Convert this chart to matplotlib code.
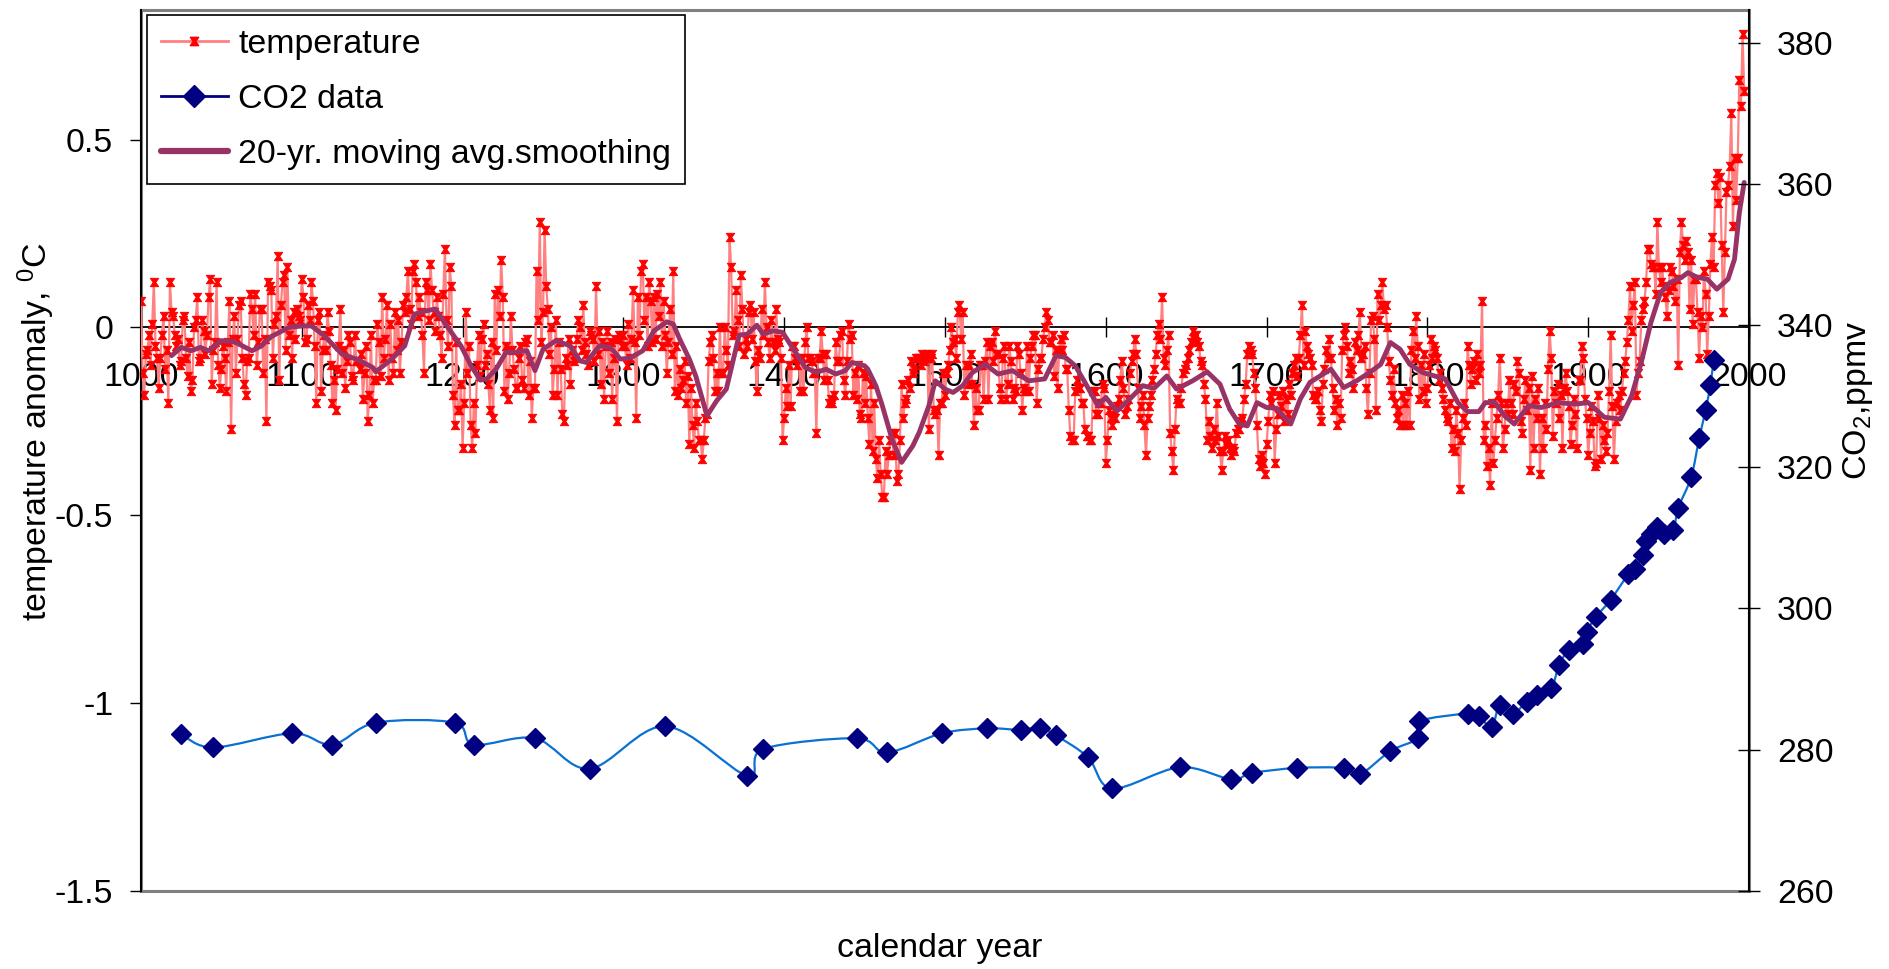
import numpy as np
import matplotlib
matplotlib.use("Agg")
import matplotlib.pyplot as plt
from matplotlib.path import Path
from matplotlib.patches import PathPatch, Rectangle
from matplotlib.lines import Line2D

# ---------------- data ----------------
temp_start_year = 1000
temp_1000s = [0.07, -0.12, -0.18, -0.07, -0.06, -0.02, -0.10, 0.01, 0.12, -0.05,
              -0.08, -0.16, -0.08, -0.02, 0.03, -0.11, -0.06, -0.20, 0.12, 0.04,
              0.03, -0.02, -0.05, -0.03, -0.10, -0.09, 0.02, 0.03, -0.08, -0.13,
              -0.04, -0.17, -0.14, 0.00, 0.02, 0.08, -0.09, -0.08, 0.02, -0.01,
              -0.07, -0.02, 0.08, 0.13, -0.15, -0.06, -0.04, 0.12, -0.10, -0.16,
              -0.11, -0.05, -0.08, -0.17, -0.04, 0.07, -0.27, -0.03, 0.03, -0.12,
              -0.03, 0.06, 0.07, -0.08, -0.15, -0.18, -0.09, -0.08, 0.09, 0.05,
              -0.02, 0.09, -0.10, -0.04, 0.05, 0.05, -0.12, -0.03, -0.25, 0.12,
              0.11, 0.10, -0.08, 0.01, 0.03, 0.19, -0.14, 0.06, 0.12, 0.14,
              -0.06, 0.16, -0.02, 0.02, -0.08, 0.04, -0.03, 0.05, 0.03, 0.02]
temp_1100s = [0.13, 0.08, -0.04, -0.03, 0.06, 0.02, 0.12, 0.07, -0.05, -0.20,
              0.02, 0.04, -0.17, -0.06, -0.02, -0.06, 0.04, -0.01, -0.10, -0.20,
              -0.14, -0.22, -0.11, -0.05, 0.05, -0.12, -0.06, -0.16, -0.09, -0.02,
              -0.04, -0.13, -0.14, -0.02, -0.09, -0.09, -0.11, -0.07, -0.19, -0.12,
              -0.05, -0.25, -0.18, -0.02, -0.20, -0.14, -0.14, 0.01, -0.04, -0.13,
              0.08, -0.08, -0.03, 0.06, -0.14, 0.01, -0.08, -0.12, 0.04, -0.06,
              0.02, -0.12, -0.04, 0.06, 0.04, 0.08, 0.15, 0.05, 0.01, 0.15,
              0.17, 0.12, 0.03, 0.08, 0.04, -0.02, -0.12, 0.12, 0.10, 0.02,
              0.17, 0.10, 0.04, -0.01, 0.08, 0.03, -0.02, -0.08, 0.09, 0.21,
              0.02, -0.05, 0.16, 0.11, -0.18, -0.26, -0.04, -0.22, -0.22, -0.15]
temp_1200s = [-0.32, -0.20, 0.04, -0.12, -0.05, -0.26, -0.32, -0.20, -0.28, -0.10,
              -0.02, -0.13, -0.03, 0.01, -0.10, -0.07, -0.15, -0.22, -0.04, -0.24,
              0.09, -0.06, 0.10, 0.03, 0.18, 0.08, -0.17, -0.05, -0.19, -0.12,
              0.03, -0.06, -0.11, -0.16, -0.16, -0.08, -0.05, -0.14, -0.16, -0.04,
              -0.03, -0.18, -0.09, -0.24, -0.16, -0.16, 0.15, 0.02, 0.28, -0.04,
              0.04, 0.26, 0.11, 0.05, -0.07, 0.00, -0.18, -0.11, 0.02, -0.18,
              -0.04, -0.11, -0.23, -0.25, -0.08, -0.10, -0.03, -0.15, -0.06, -0.09,
              -0.08, -0.03, 0.02, 0.00, -0.06, 0.06, -0.04, -0.07, -0.10, -0.01,
              -0.02, -0.03, -0.09, 0.11, -0.07, -0.01, -0.15, -0.04, -0.19, -0.05,
              -0.01, -0.12, -0.04, -0.19, -0.08, -0.03, -0.25, -0.02, -0.03, -0.05]
temp_1300s = [-0.02, -0.05, -0.10, 0.01, -0.08, -0.03, 0.10, -0.04, -0.24, 0.08,
              -0.02, 0.15, 0.17, 0.02, 0.08, -0.05, 0.12, 0.07, -0.04, 0.08,
              -0.03, 0.09, 0.03, 0.12, -0.05, 0.07, -0.02, -0.12, -0.04, 0.05,
              -0.07, 0.15, -0.17, -0.05, -0.18, -0.11, -0.16, -0.14, -0.09, -0.20,
              -0.13, -0.31, -0.16, -0.26, -0.32, -0.20, -0.25, -0.30, -0.30, -0.35,
              -0.30, -0.24, -0.23, -0.09, -0.04, -0.02, -0.08, -0.17, -0.12, -0.17,
              0.00, -0.12, -0.12, 0.00, -0.06, -0.10, 0.24, 0.16, -0.02, -0.01,
              0.10, 0.02, -0.05, 0.14, 0.05, -0.07, -0.03, -0.05, 0.04, 0.06,
              -0.03, 0.04, -0.09, -0.17, -0.06, -0.08, 0.05, -0.02, 0.12, 0.00,
              -0.04, -0.08, 0.02, -0.04, -0.06, 0.05, -0.03, -0.04, -0.08, -0.30]
temp_1400s = [-0.24, -0.16, -0.21, -0.10, -0.21, -0.05, -0.05, -0.08, -0.10, -0.08,
              -0.17, -0.08, -0.17, -0.04, 0.00, -0.08, -0.08, -0.09, -0.12, -0.12,
              -0.28, -0.08, -0.08, -0.01, -0.07, -0.14, -0.07, -0.14, -0.20, -0.19,
              -0.20, -0.18, -0.04, -0.09, -0.09, -0.02, -0.01, -0.14, -0.18, -0.09,
              0.01, -0.03, -0.02, -0.18, -0.12, -0.19, -0.10, -0.23, -0.24, -0.12,
              -0.20, -0.13, -0.24, -0.31, -0.15, -0.33, -0.20, -0.35, -0.40, -0.30,
              -0.39, -0.45, -0.45, -0.33, -0.39, -0.34, -0.30, -0.28, -0.34, -0.28,
              -0.41, -0.39, -0.30, -0.15, -0.24, -0.20, -0.19, -0.14, -0.16, -0.09,
              -0.12, -0.11, -0.08, -0.08, -0.08, -0.10, -0.07, -0.09, -0.08, -0.07,
              -0.27, -0.08, -0.07, -0.22, -0.23, -0.22, -0.34, -0.20, -0.20, -0.12]
temp_1500s = [-0.18, -0.12, -0.10, -0.06, 0.00, -0.04, -0.03, -0.08, 0.04, 0.06,
              -0.03, 0.04, -0.18, -0.10, -0.15, -0.10, -0.07, -0.15, -0.26, -0.16,
              -0.22, -0.22, -0.10, -0.10, -0.19, -0.09, -0.04, -0.19, -0.05, -0.04,
              -0.09, -0.01, -0.07, -0.07, -0.16, -0.19, -0.08, -0.05, -0.19, -0.15,
              -0.05, -0.09, -0.19, -0.16, -0.17, -0.05, -0.07, -0.12, -0.22, -0.16,
              -0.17, -0.05, -0.17, -0.08, -0.05, -0.02, -0.02, -0.20, -0.11, -0.08,
              -0.08, -0.03, 0.00, 0.04, 0.02, -0.04, -0.04, -0.02, -0.13, -0.06,
              -0.16, -0.06, -0.03, -0.06, -0.02, -0.11, -0.11, -0.22, -0.29, -0.30,
              -0.30, -0.17, -0.14, -0.16, -0.16, -0.20, -0.20, -0.27, -0.29, -0.29,
              -0.30, -0.30, -0.17, -0.17, -0.23, -0.23, -0.20, -0.20, -0.15, -0.16]
temp_1600s = [-0.36, -0.30, -0.22, -0.24, -0.26, -0.22, -0.24, -0.21, -0.19, -0.14,
              -0.09, -0.16, -0.23, -0.21, -0.19, -0.12, -0.09, -0.07, -0.03, -0.07,
              -0.16, -0.24, -0.21, -0.18, -0.26, -0.34, -0.24, -0.21, -0.18, -0.14,
              -0.11, -0.07, -0.02, 0.01, -0.03, 0.08, -0.08, -0.10, -0.06, -0.02,
              -0.28, -0.33, -0.38, -0.27, -0.19, -0.20, -0.20, -0.16, -0.12, -0.11,
              -0.10, -0.08, -0.06, -0.04, -0.01, -0.03, -0.02, -0.04, -0.05, -0.09,
              -0.10, -0.15, -0.19, -0.30, -0.25, -0.29, -0.32, -0.27, -0.30, -0.20,
              -0.29, -0.33, -0.38, -0.33, -0.29, -0.31, -0.30, -0.32, -0.34, -0.32,
              -0.33, -0.28, -0.27, -0.27, -0.25, -0.24, -0.19, -0.15, -0.07, -0.05,
              -0.06, -0.07, -0.12, -0.16, -0.26, -0.35, -0.37, -0.34, -0.36, -0.39]
temp_1700s = [-0.31, -0.25, -0.18, -0.20, -0.17, -0.36, -0.27, -0.23, -0.18, -0.21,
              -0.17, -0.25, -0.19, -0.23, -0.15, -0.18, -0.12, -0.10, -0.08, -0.13,
              -0.08, -0.02, 0.06, -0.10, -0.01, -0.05, -0.07, -0.08, -0.10, -0.18,
              -0.19, -0.19, -0.17, -0.22, -0.25, -0.15, -0.11, -0.06, -0.08, -0.03,
              -0.08, -0.16, -0.22, -0.19, -0.26, -0.20, -0.24, -0.06, -0.02, 0.00,
              -0.05, -0.12, -0.09, -0.11, -0.16, -0.04, -0.06, -0.02, 0.04, -0.08,
              -0.07, -0.05, -0.16, -0.23, -0.12, 0.02, 0.03, -0.03, -0.22, 0.09,
              0.02, 0.06, 0.12, 0.05, 0.06, 0.00, -0.09, -0.14, -0.18, -0.11,
              -0.20, -0.24, -0.22, -0.26, -0.18, -0.26, -0.20, -0.26, -0.17, -0.26,
              -0.06, -0.01, -0.08, 0.03, -0.05, -0.19, -0.10, -0.17, -0.07, -0.20]
temp_1800s = [-0.16, -0.10, -0.03, -0.08, -0.05, -0.06, -0.08, -0.14, -0.12, -0.16,
              -0.19, -0.22, -0.24, -0.25, -0.20, -0.32, -0.27, -0.33, -0.22, -0.28,
              -0.43, -0.30, -0.24, -0.20, -0.26, -0.05, -0.10, -0.15, -0.11, -0.09,
              -0.14, -0.07, -0.12, -0.10, 0.07, -0.30, -0.26, -0.37, -0.32, -0.42,
              -0.20, -0.36, -0.30, -0.24, -0.18, -0.08, -0.20, -0.32, -0.27, -0.20,
              -0.23, -0.14, -0.20, -0.23, -0.15, -0.17, -0.09, -0.12, -0.25, -0.28,
              -0.19, -0.14, -0.22, -0.16, -0.38, -0.13, -0.32, -0.19, -0.24, -0.16,
              -0.39, -0.24, -0.32, -0.20, -0.27, -0.11, -0.01, -0.08, -0.29, -0.17,
              -0.20, -0.15, -0.24, -0.18, -0.32, -0.16, -0.12, -0.17, -0.21, -0.31,
              -0.26, -0.19, -0.23, -0.32, -0.14, -0.14, -0.05, -0.08, -0.19, -0.24]
temp_1900s = [-0.34, -0.28, -0.21, -0.25, -0.37, -0.36, -0.18, -0.24, -0.35, -0.26,
              -0.30, -0.33, -0.28, -0.17, -0.02, -0.21, -0.35, -0.25, -0.20, -0.18,
              -0.22, -0.17, -0.12, -0.09, -0.04, 0.02, 0.11, -0.01, 0.06, 0.12,
              -0.18, -0.12, -0.09, 0.02, 0.05, 0.07, 0.12, 0.21, 0.21, 0.17,
              0.16, 0.16, 0.09, 0.28, 0.16, 0.12, 0.16, 0.11, 0.08, 0.03,
              0.10, 0.16, 0.15, 0.11, 0.07, 0.13, -0.10, 0.20, 0.28, 0.22,
              0.18, 0.23, 0.20, 0.05, 0.18, 0.01, 0.13, 0.13, 0.04, -0.08,
              0.03, 0.00, 0.15, 0.09, -0.07, 0.03, 0.17, 0.24, 0.16, 0.38,
              0.41, 0.33, 0.40, 0.22, 0.04, 0.20, 0.36, 0.38, 0.43, 0.57,
              0.27, 0.45, 0.34, 0.45, 0.66, 0.59, 0.78, 0.63]

# 20-yr moving average curve (year, anomaly)
ma_years = [1019, 1025, 1031, 1037, 1042, 1050, 1058, 1069, 1075, 1081, 1092, 1100,
            1106, 1114, 1125, 1135, 1144, 1146, 1156, 1164, 1170, 1177, 1183, 1193,
            1199, 1205, 1211, 1215, 1221, 1227, 1233, 1240, 1245, 1250, 1258, 1267,
            1273, 1277, 1285, 1292, 1298, 1304, 1312, 1319, 1327, 1331, 1335, 1341,
            1345, 1352, 1358, 1364, 1372, 1377, 1383, 1387, 1393, 1399, 1405, 1413,
            1420, 1426, 1432, 1438, 1442, 1450, 1452, 1457, 1461, 1467, 1473, 1480,
            1484, 1490, 1494, 1500, 1505, 1511, 1517, 1525, 1533, 1542, 1552, 1562,
            1569, 1575, 1581, 1587, 1595, 1600, 1604, 1607, 1615, 1623, 1630, 1638,
            1644, 1654, 1663, 1671, 1677, 1683, 1688, 1694, 1700, 1706, 1715, 1721,
            1727, 1740, 1748, 1756, 1764, 1771, 1777, 1783, 1789, 1797, 1811, 1819,
            1825, 1832, 1836, 1842, 1848, 1854, 1863, 1871, 1881, 1892, 1900, 1910,
            1920, 1927, 1933, 1939, 1945, 1951, 1958, 1962, 1968, 1974, 1980, 1987,
            1991, 1994, 1997]
ma_vals = [-0.075, -0.053, -0.062, -0.053, -0.062, -0.035, -0.038, -0.062, -0.049, -0.024, 0.0, 0.004,
           0.004, -0.022, -0.071, -0.086, -0.106, -0.118, -0.084, -0.049, 0.035, 0.044, 0.049, -0.013,
           -0.049, -0.10, -0.14, -0.137, -0.11, -0.066, -0.066, -0.062, -0.115, -0.058, -0.035, -0.049,
           -0.089, -0.093, -0.049, -0.053, -0.084, -0.082, -0.062, -0.009, 0.015, 0.009, -0.031, -0.084,
           -0.129, -0.235, -0.195, -0.164, -0.02, -0.018, 0.006, -0.018, -0.009, -0.013, -0.053, -0.106,
           -0.12, -0.111, -0.124, -0.115, -0.093, -0.102, -0.111, -0.155, -0.208, -0.297, -0.359, -0.315,
           -0.279, -0.208, -0.142, -0.164, -0.173, -0.155, -0.12, -0.098, -0.124, -0.115, -0.142, -0.137,
           -0.075, -0.08, -0.102, -0.146, -0.208, -0.186, -0.208, -0.222, -0.19, -0.155, -0.162, -0.129,
           -0.164, -0.142, -0.118, -0.151, -0.217, -0.257, -0.262, -0.2, -0.213, -0.215, -0.257, -0.19,
           -0.146, -0.111, -0.16, -0.142, -0.12, -0.098, -0.04, -0.058, -0.098, -0.12, -0.137, -0.2,
           -0.224, -0.224, -0.2, -0.2, -0.235, -0.257, -0.208, -0.213, -0.2, -0.204, -0.2, -0.239,
           -0.244, -0.182, -0.093, 0.013, 0.093, 0.12, 0.133, 0.146, 0.133, 0.129, 0.102, 0.129,
           0.182, 0.306, 0.386]

# CO2 ice-core data (year, ppmv)
co2_years = [1025, 1045, 1094, 1119, 1146, 1195, 1207, 1245, 1279, 1326, 1377, 1387,
             1445, 1464, 1498, 1526, 1547, 1559, 1569, 1589, 1604, 1646, 1678, 1691,
             1719, 1748, 1758, 1777, 1794, 1795, 1825, 1832, 1840, 1845, 1853, 1862,
             1868, 1877, 1882, 1888, 1897, 1899, 1905, 1914, 1925, 1929, 1934, 1936,
             1939, 1943, 1947, 1953, 1956, 1964, 1969, 1973, 1976, 1978]
co2_ppm = [282.2, 280.3, 282.3, 280.7, 283.8, 283.8, 280.7, 281.6, 277.3, 283.3, 276.3, 280.1,
           281.6, 279.6, 282.3, 283.0, 282.8, 283.1, 282.0, 278.9, 274.5, 277.5, 275.8, 276.7,
           277.4, 277.4, 276.5, 279.8, 281.6, 284.0, 285.1, 284.7, 283.2, 286.3, 285.1, 286.8,
           287.7, 288.7, 292.0, 294.1, 295.0, 296.7, 298.8, 301.2, 304.8, 305.5, 307.5, 309.5,
           310.5, 311.5, 310.5, 311.1, 314.2, 318.5, 324.0, 328.0, 331.6, 335.1]

x_ticks = list(range(1000, 2001, 100))
x_tick_labels = [str(v) for v in x_ticks]
temp_ticks = [-1.5, -1.0, -0.5, 0.0, 0.5]
temp_tick_labels = ["-1.5", "-1", "-0.5", "0", "0.5"]
co2_ticks = [260, 280, 300, 320, 340, 360, 380]
co2_tick_labels = [str(v) for v in co2_ticks]

legend_labels = ["temperature", "CO2 data", "20-yr. moving avg.smoothing"]

# ---------------- styling ----------------
plt.rcParams["font.family"] = ["Liberation Sans", "DejaVu Sans"]
plt.rcParams["mathtext.fontset"] = "custom"
plt.rcParams["mathtext.rm"] = "Liberation Sans"
plt.rcParams["mathtext.it"] = "Liberation Sans:italic"
plt.rcParams["mathtext.bf"] = "Liberation Sans:bold"
plt.rcParams["mathtext.default"] = "regular"
FS = 24.4

temp = np.array(temp_1000s + temp_1100s + temp_1200s + temp_1300s + temp_1400s +
                temp_1500s + temp_1600s + temp_1700s + temp_1800s + temp_1900s)
years = np.arange(temp_start_year, temp_start_year + len(temp))

W, H = 1889, 969
fig = plt.figure(figsize=(W / 100, H / 100), dpi=100)
L, R, T, B = 141, 1749, 10, 891
ax = fig.add_axes([L / W, 1 - B / H, (R - L) / W, (B - T) / H])
ax.set_xlim(1000, 2000)
ax.set_ylim(-1.5, 0.845)

ax2 = ax.twinx()
ax2.set_ylim(260, 384.6)

# hourglass-shaped marker like the spreadsheet "x" marker
hg = Path([(-1, 1), (1, 1), (0.3, 0), (1, -1), (-1, -1), (-0.3, 0), (-1, 1)],
          [Path.MOVETO] + [Path.LINETO] * 5 + [Path.CLOSEPOLY])

temp_color = "#FF8080"
ax.plot(years, temp, color=temp_color, lw=1.6, marker=hg, ms=6.0,
        mfc="#FF0000", mec="#FF0000", mew=0.7, zorder=3)
ma_color = "#993366"
ax.plot(ma_years, ma_vals, color=ma_color, lw=3.5, solid_capstyle="round",
        solid_joinstyle="round", zorder=4)


def smooth_path(xs, ys):
    pts = np.column_stack([xs, ys]).astype(float)
    n = len(pts)
    verts = [pts[0]]
    codes = [Path.MOVETO]
    for i in range(n - 1):
        p0 = pts[i - 1] if i > 0 else pts[i]
        p1 = pts[i]
        p2 = pts[i + 1]
        p3 = pts[i + 2] if i + 2 < n else pts[i + 1]
        c1 = p1 + (p2 - p0) / 6.0
        c2 = p2 - (p3 - p1) / 6.0
        verts += [c1, c2, p2]
        codes += [Path.CURVE4] * 3
    return Path(verts, codes)


co2_line_color = "#0A70D2"
co2_mark_color = "#000080"
ax2.add_patch(PathPatch(smooth_path(co2_years, co2_ppm), fill=False,
                        ec=co2_line_color, lw=1.6, zorder=3))
ax2.plot(co2_years, co2_ppm, ls="none", marker="D", ms=10,
         mfc=co2_mark_color, mec=co2_mark_color, zorder=4)

# axes frame and lines
for s in ["top", "right"]:
    ax.spines[s].set_visible(False)
ax.spines["bottom"].set_position(("data", 0))
ax.spines["bottom"].set_color("black")
ax.spines["bottom"].set_linewidth(1.3)
ax.spines["left"].set_color("black")
ax.spines["left"].set_linewidth(1.5)
for s in ["top", "left", "bottom"]:
    ax2.spines[s].set_visible(False)
ax2.spines["right"].set_color("black")
ax2.spines["right"].set_linewidth(1.5)
ax.add_patch(Rectangle((0, 0), 1, 1, transform=ax.transAxes, fill=False,
                       ec="#808080", lw=2.2, clip_on=False, zorder=1))

ax.set_xticks(x_ticks, labels=x_tick_labels)
ax.set_yticks(temp_ticks, labels=temp_tick_labels)
ax2.set_yticks(co2_ticks, labels=co2_tick_labels)
ax.tick_params(axis="x", direction="inout", length=14, width=1, pad=18,
               labelsize=FS, colors="black")
ax.tick_params(axis="y", direction="out", length=8, width=1, pad=12,
               labelsize=FS, colors="black")
ax2.tick_params(axis="y", direction="inout", length=16, width=1, pad=12,
                labelsize=FS, colors="black")

fig.text(36 / W, 1 - 432 / H, "temperature anomaly, $^0$C", rotation=90,
         ha="center", va="center", fontsize=FS)
fig.text(1858 / W, 1 - 400 / H, "CO$_2$,ppmv", rotation=90,
         ha="center", va="center", fontsize=FS)
fig.text(940 / W, 1 - 948 / H, "calendar year", ha="center", va="center",
         fontsize=FS)

handles = [
    Line2D([], [], color=temp_color, lw=2, marker=hg, ms=6, mfc="#FF0000", mec="#FF0000"),
    Line2D([], [], color=co2_mark_color, lw=2, marker="D", ms=11, mfc=co2_mark_color,
           mec=co2_mark_color),
    Line2D([], [], color=ma_color, lw=4.5, solid_capstyle="round"),
]
leg = ax2.legend(handles, legend_labels, loc="upper left",
                 bbox_to_anchor=(147 / W, 1 - 15 / H), bbox_transform=fig.transFigure,
                 fontsize=FS, frameon=True, fancybox=False, framealpha=1,
                 edgecolor="black", borderaxespad=0, borderpad=0.4,
                 handlelength=2.0, handletextpad=0.3, labelspacing=0.72,
                 numpoints=1)
leg.get_frame().set_linewidth(1.2)
leg.set_zorder(10)

fig.savefig("out.png", dpi=100)
